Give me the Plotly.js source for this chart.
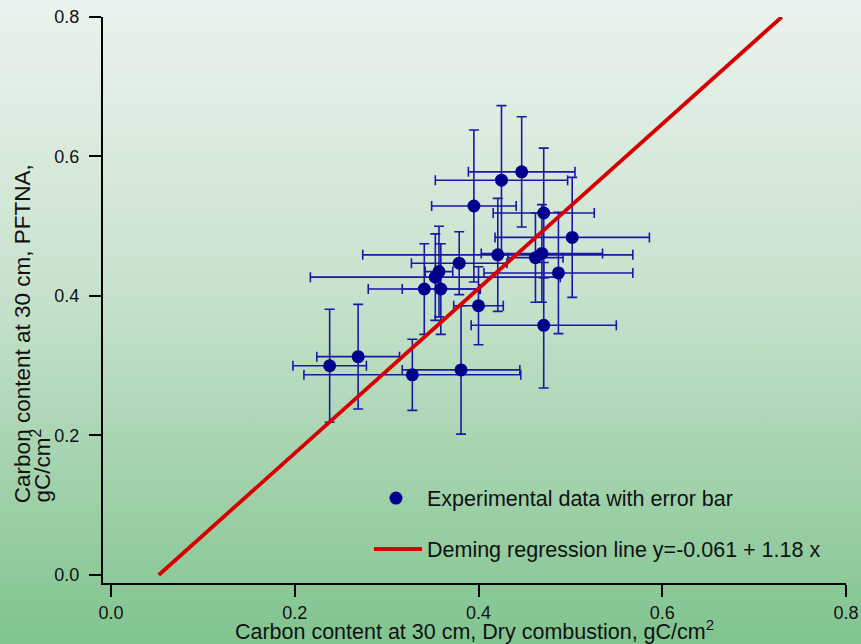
<!DOCTYPE html>
<html>
<head>
<meta charset="utf-8">
<script src="https://cdn.plot.ly/plotly-3.0.1.min.js"></script>
<style>
  html, body { margin: 0; padding: 0; }
  body { width: 861px; height: 644px; overflow: hidden;
         background: linear-gradient(to bottom, #ebf3ee 0%, #c8e2cd 45%, #80c48f 100%); }
  #chart { width: 861px; height: 644px; }
</style>
</head>
<body>
<div id="chart"></div>
<script>
// Dry combustion (x) vs PFTNA (y), gC/cm^2
const dryCombustion = [0.238, 0.269, 0.328, 0.381, 0.400, 0.471, 0.341, 0.359, 0.353, 0.357,
                       0.379, 0.421, 0.462, 0.469, 0.487, 0.502, 0.471, 0.395, 0.425, 0.447];
const pftna         = [0.300, 0.313, 0.287, 0.294, 0.386, 0.358, 0.410, 0.410, 0.427, 0.435,
                       0.447, 0.459, 0.455, 0.461, 0.433, 0.484, 0.519, 0.529, 0.566, 0.578];
const errDry        = [0.040, 0.045, 0.118, 0.064, 0.027, 0.079, 0.061, 0.042, 0.136, 0.015,
                       0.052, 0.147, 0.030, 0.066, 0.081, 0.084, 0.055, 0.046, 0.072, 0.058];
const errPftna      = [0.081, 0.075, 0.051, 0.092, 0.056, 0.090, 0.065, 0.065, 0.062, 0.065,
                       0.045, 0.081, 0.064, 0.070, 0.087, 0.086, 0.093, 0.109, 0.107, 0.079];
// Deming regression line end points
const lineX = [0.052, 0.730];
const lineY = [0.000, 0.800];
const tickValues = [0.0, 0.2, 0.4, 0.6, 0.8];
const tickLabels = ["0.0", "0.2", "0.4", "0.6", "0.8"];

const FONT = 'Liberation Sans, Arial, sans-serif';
const errColor = 'rgb(25,25,165)';
const traces = [
  {
    type: 'scatter', mode: 'markers',
    x: dryCombustion, y: pftna,
    name: 'Experimental data with error bar',
    marker: { color: 'rgb(0,0,140)', size: 13 },
    error_x: { type: 'data', array: errDry, visible: true, color: errColor, thickness: 1.6, width: 5 },
    error_y: { type: 'data', array: errPftna, visible: true, color: errColor, thickness: 1.6, width: 5 },
    legend: 'legend'
  },
  {
    type: 'scatter', mode: 'lines',
    x: lineX, y: lineY,
    name: 'Deming regression line y=-0.061 + 1.18 x',
    line: { color: 'rgb(215,0,0)', width: 3.8 },
    legend: 'legend2'
  }
];

const axisCommon = {
  showline: true, linecolor: 'black', linewidth: 2,
  ticks: 'outside', ticklen: 12, tickwidth: 2, tickcolor: 'black',
  showgrid: false, zeroline: false,
  tickvals: tickValues, ticktext: tickLabels,
  tickfont: { family: FONT, size: 18, color: '#111' }
};

const layout = {
  width: 861, height: 644,
  paper_bgcolor: 'rgba(0,0,0,0)', plot_bgcolor: 'rgba(0,0,0,0)',
  margin: { l: 103, r: 15, t: 17, b: 61 },
  showlegend: true,
  font: { family: FONT, color: '#111' },
  xaxis: Object.assign({}, axisCommon, {
    range: [-0.0087, 0.8],
    title: { text: 'Carbon content at 30 cm, Dry combustion, gC/cm<sup>2</sup>',
             font: { family: FONT, size: 21.5, color: '#111' }, standoff: 0 }
  }),
  yaxis: Object.assign({}, axisCommon, {
    range: [-0.0115, 0.8],
    ticklabelstandoff: 6
  }),
  legend: {
    x: 0.3526, y: 0.15, xanchor: 'left', yanchor: 'middle', itemwidth: 52,
    bgcolor: 'rgba(0,0,0,0)', font: { family: FONT, size: 21.5, color: '#111' }
  },
  legend2: {
    x: 0.358, y: 0.06, xanchor: 'left', yanchor: 'middle', itemwidth: 48,
    bgcolor: 'rgba(0,0,0,0)', font: { family: FONT, size: 21.5, color: '#111' }
  },
  annotations: [
    {
      xref: 'paper', yref: 'paper',
      x: -0.108, y: 0.138, xanchor: 'center', yanchor: 'bottom',
      textangle: -90, showarrow: false,
      text: 'Carbon content at 30 cm, PFTNA,',
      font: { family: FONT, size: 22.5, color: '#111' }
    },
    {
      xref: 'paper', yref: 'paper',
      x: -0.084, y: 0.138, xanchor: 'center', yanchor: 'bottom',
      textangle: -90, showarrow: false,
      text: 'gC/cm<sup>2</sup>',
      font: { family: FONT, size: 22.5, color: '#111' }
    }
  ]
};

Plotly.newPlot('chart', traces, layout, { displayModeBar: false, staticPlot: true });
</script>
</body>
</html>
